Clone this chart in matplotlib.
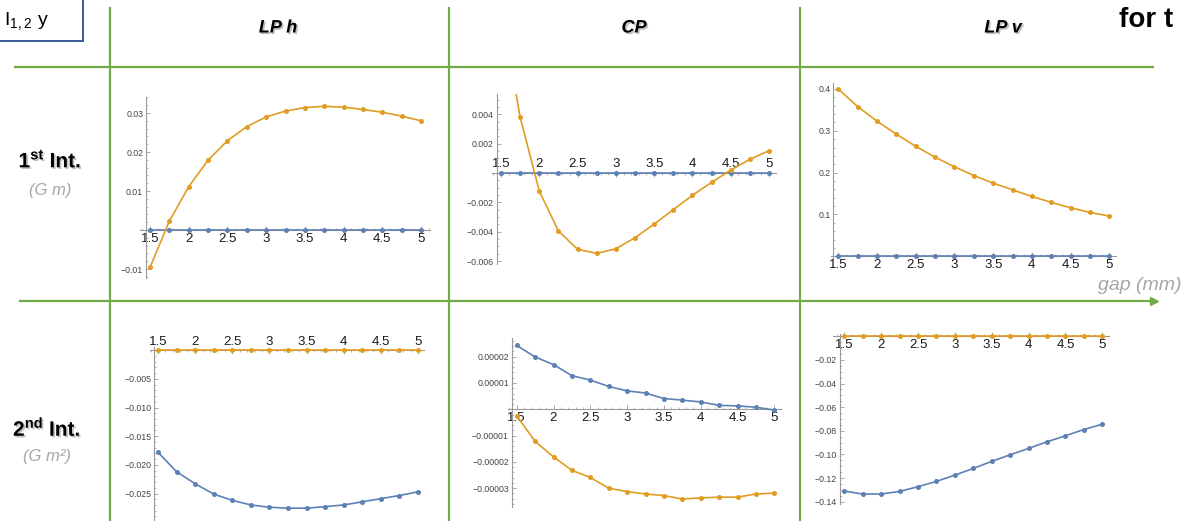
import matplotlib.pyplot as plt
import matplotlib.patheffects as pe
from matplotlib.lines import Line2D
from matplotlib.ticker import FixedLocator, MultipleLocator, FuncFormatter

plt.rcParams['font.family'] = ['Liberation Sans', 'DejaVu Sans']
plt.rcParams['mathtext.fontset'] = 'custom'
plt.rcParams['mathtext.rm'] = 'Liberation Sans'
plt.rcParams['mathtext.bf'] = 'Liberation Sans:bold'

# gap (mm), shared by every panel
gap = [1.5, 1.75, 2.0, 2.25, 2.5, 2.75, 3.0, 3.25, 3.5, 3.75, 4.0, 4.25, 4.5, 4.75, 5.0]
zeros = [0.0, 0.0, 0.0, 0.0, 0.0, 0.0, 0.0, 0.0, 0.0, 0.0, 0.0, 0.0, 0.0, 0.0, 0.0]

# 1st integral (G m)
lph_1st_orange = [-0.0096, 0.0023, 0.0111, 0.0179, 0.0229, 0.0265, 0.0290, 0.0305,
                  0.0314, 0.0317, 0.0315, 0.0309, 0.0302, 0.0292, 0.0280]
lph_1st_blue = zeros
cp_1st_orange = [0.0113, 0.0038, -0.00123, -0.00395, -0.0052, -0.00548, -0.00516, -0.00441,
                 -0.00348, -0.0025, -0.00152, -0.00064, 0.0002, 0.00093, 0.00152]
cp_1st_blue = zeros
lpv_1st_orange = [0.400, 0.358, 0.323, 0.292, 0.263, 0.237, 0.214, 0.193,
                  0.175, 0.159, 0.143, 0.129, 0.116, 0.105, 0.096]
lpv_1st_blue = zeros

# 2nd integral (G m^2)
lph_2nd_blue = [-0.0178, -0.0212, -0.0233, -0.0251, -0.0262, -0.0270, -0.0274, -0.02756,
                -0.02756, -0.0273, -0.0270, -0.02645, -0.0259, -0.02535, -0.0247]
lph_2nd_orange = zeros
cp_2nd_blue = [2.43e-5, 1.99e-5, 1.70e-5, 1.28e-5, 1.11e-5, 0.87e-5, 0.70e-5, 0.62e-5,
               0.41e-5, 0.35e-5, 0.28e-5, 0.15e-5, 0.13e-5, 0.08e-5, -0.03e-5]
cp_2nd_orange = [-0.25e-5, -1.22e-5, -1.81e-5, -2.32e-5, -2.59e-5, -3.0e-5, -3.13e-5, -3.22e-5,
                 -3.28e-5, -3.41e-5, -3.37e-5, -3.34e-5, -3.34e-5, -3.22e-5, -3.19e-5]
lpv_2nd_blue = [-0.131, -0.1335, -0.1335, -0.1313, -0.1273, -0.1228, -0.1175, -0.1118,
                -0.1059, -0.1003, -0.0949, -0.0893, -0.0842, -0.0789, -0.0744]
lpv_2nd_orange = zeros

# tick labels
x_ticks = [1.5, 2, 2.5, 3, 3.5, 4, 4.5, 5]
y_ticks_lph_1st = [-0.01, 0.01, 0.02, 0.03]
y_ticks_cp_1st = [-0.006, -0.004, -0.002, 0.002, 0.004]
y_ticks_lpv_1st = [0.1, 0.2, 0.3, 0.4]
y_ticks_lph_2nd = [-0.025, -0.020, -0.015, -0.010, -0.005]
y_ticks_cp_2nd = [-0.00003, -0.00002, -0.00001, 0.00001, 0.00002]
y_ticks_lpv_2nd = [-0.14, -0.12, -0.10, -0.08, -0.06, -0.04, -0.02]

column_titles = ['LP h', 'CP', 'LP v']

W, H = 1187, 521
GREEN = '#70AD47'
BLUE = '#5E81B5'
ORANGE = '#E19C24'
AXIS = '#9A9A9A'

fig = plt.figure(figsize=(W / 100, H / 100), dpi=100)
shadow = [pe.withSimplePatchShadow(offset=(1.2, -1.2), shadow_rgbFace='#777777', alpha=0.45)]


def fig_line(x0, y0, x1, y1, **kw):
    fig.add_artist(Line2D([x0 / W, x1 / W], [1 - y0 / H, 1 - y1 / H],
                          transform=fig.transFigure, **kw))


def fig_text(x, y, s, **kw):
    fig.text(x / W, 1 - y / H, s, **kw)


def panel(box, xpx, ypx, yref, spine_px, blue, orange, yticks, fmt, yminor, top_axis=False):
    # box and pixel references are in figure pixels (origin top-left)
    l, t, r, b = box
    ax = fig.add_axes([l / W, 1 - b / H, (r - l) / W, (b - t) / H])
    ax.patch.set_visible(False)
    sx = (xpx[1] - xpx[0]) / 3.5
    ax.set_xlim(1.5 + (l - xpx[0]) / sx, 1.5 + (r - xpx[0]) / sx)
    sy = (ypx[1] - ypx[0]) / (yref[1] - yref[0])
    ax.set_ylim(yref[0] + (b - ypx[0]) / sy, yref[0] + (t - ypx[0]) / sy)

    ax.plot(gap, blue, color=BLUE, lw=1.2, marker='o', ms=2.6, zorder=3)
    ax.plot(gap, orange, color=ORANGE, lw=1.2, marker='o', ms=2.6, zorder=4)

    xside = 'top' if top_axis else 'bottom'
    other = 'bottom' if top_axis else 'top'
    ax.spines[other].set_visible(False)
    ax.spines['right'].set_visible(False)
    ax.spines[xside].set_position(('data', 0))
    ax.spines['left'].set_position(('data', 1.5 + (spine_px - xpx[0]) / sx))
    for s in (xside, 'left'):
        ax.spines[s].set_color(AXIS)
        ax.spines[s].set_linewidth(0.8)
    ax.xaxis.set_ticks_position(xside)

    ax.xaxis.set_major_locator(FixedLocator(x_ticks))
    ax.xaxis.set_minor_locator(MultipleLocator(0.1))
    ax.xaxis.set_major_formatter(FuncFormatter(lambda v, p: '%g' % v))
    ax.yaxis.set_major_locator(FixedLocator(yticks))
    ax.yaxis.set_minor_locator(MultipleLocator(yminor))
    ax.yaxis.set_major_formatter(FuncFormatter(lambda v, p: (fmt % v).replace('-', '\u2212')))

    ax.tick_params(axis='x', which='major', direction='in', length=3, width=0.6,
                   color=AXIS, labelsize=9.5, labelcolor='#1a1a1a', pad=2)
    ax.tick_params(axis='x', which='minor', direction='in', length=1.6, width=0.5, color=AXIS)
    ax.tick_params(axis='y', which='major', direction='in', length=3, width=0.6,
                   color=AXIS, labelsize=6.3, labelcolor='#444444', pad=2)
    ax.tick_params(axis='y', which='minor', direction='in', length=1.6, width=0.5, color=AXIS)
    return ax


# first row
panel((140, 97, 430, 278), (150, 421), (230, 113), (0, 0.03), 146,
      lph_1st_blue, lph_1st_orange, y_ticks_lph_1st, '%.2f', 0.002)
panel((492, 94, 776, 264), (501, 769), (173, 114.3), (0, 0.004), 496.7,
      cp_1st_blue, cp_1st_orange, y_ticks_cp_1st, '%.3f', 0.0005, top_axis=True)
panel((831, 83, 1116, 258), (838.3, 1109.3), (256.3, 89.0), (0, 0.4), 833.3,
      lpv_1st_blue, lpv_1st_orange, y_ticks_lpv_1st, '%.1f', 0.02)

# second row
panel((150, 347, 424, 521), (158, 418), (350.3, 493.5), (0, -0.025), 154.3,
      lph_2nd_blue, lph_2nd_orange, y_ticks_lph_2nd, '%.3f', 0.001, top_axis=True)
panel((508, 338, 781, 507), (516.7, 774.3), (409.3, 356.7), (0, 0.00002), 511.7,
      cp_2nd_blue, cp_2nd_orange, y_ticks_cp_2nd, '%.5f', 0.000002)
panel((833, 334, 1109, 504), (844.3, 1102.3), (336.3, 501.7), (0, -0.14), 840,
      lpv_2nd_blue, lpv_2nd_orange, y_ticks_lpv_2nd, '%.2f', 0.005)

# table grid lines
for xv in (110, 449, 800):
    fig_line(xv, 8, xv, 521, color=GREEN, lw=1.6)
fig_line(15, 67, 1153, 67, color=GREEN, lw=1.6)
fig_line(20, 301, 1152, 301, color=GREEN, lw=1.6)
fig.add_artist(Line2D([1154 / W], [1 - 301 / H], transform=fig.transFigure,
                      marker='>', ms=6, color=GREEN, lw=0))

# top-left box
fig_line(83, 0, 83, 41, color='#3B5C9A', lw=1.4)
fig_line(0, 41, 83, 41, color='#3B5C9A', lw=1.4)
fig_text(4, 22, r'I$_{\mathregular{1,2}}$ y', fontsize=14, va='center', ha='left')

# column headers
for cx, title in zip((278, 634, 1003), column_titles):
    fig_text(cx, 28, title, fontsize=13, fontweight='bold', style='italic',
             ha='center', va='center', path_effects=shadow)
fig_text(1119, 27, 'for t', fontsize=20, fontweight='bold', ha='left', va='baseline')

# row labels
fig_text(50, 160, r'1$^{\mathbf{st}}$ Int.', fontsize=15, fontweight='bold',
         ha='center', va='center', path_effects=shadow)
fig_text(50, 190, '(G m)', fontsize=12, style='italic', color='#A6A6A6', ha='center', va='center')
fig_text(47, 428, r'2$^{\mathbf{nd}}$ Int.', fontsize=15, fontweight='bold',
         ha='center', va='center', path_effects=shadow)
fig_text(47, 457, '(G m²)', fontsize=12, style='italic', color='#A6A6A6', ha='center', va='center')

fig_text(1098, 285, 'gap (mm)', fontsize=14, style='italic', color='#A6A6A6', ha='left', va='center')

fig.savefig('out.png', dpi=100)
